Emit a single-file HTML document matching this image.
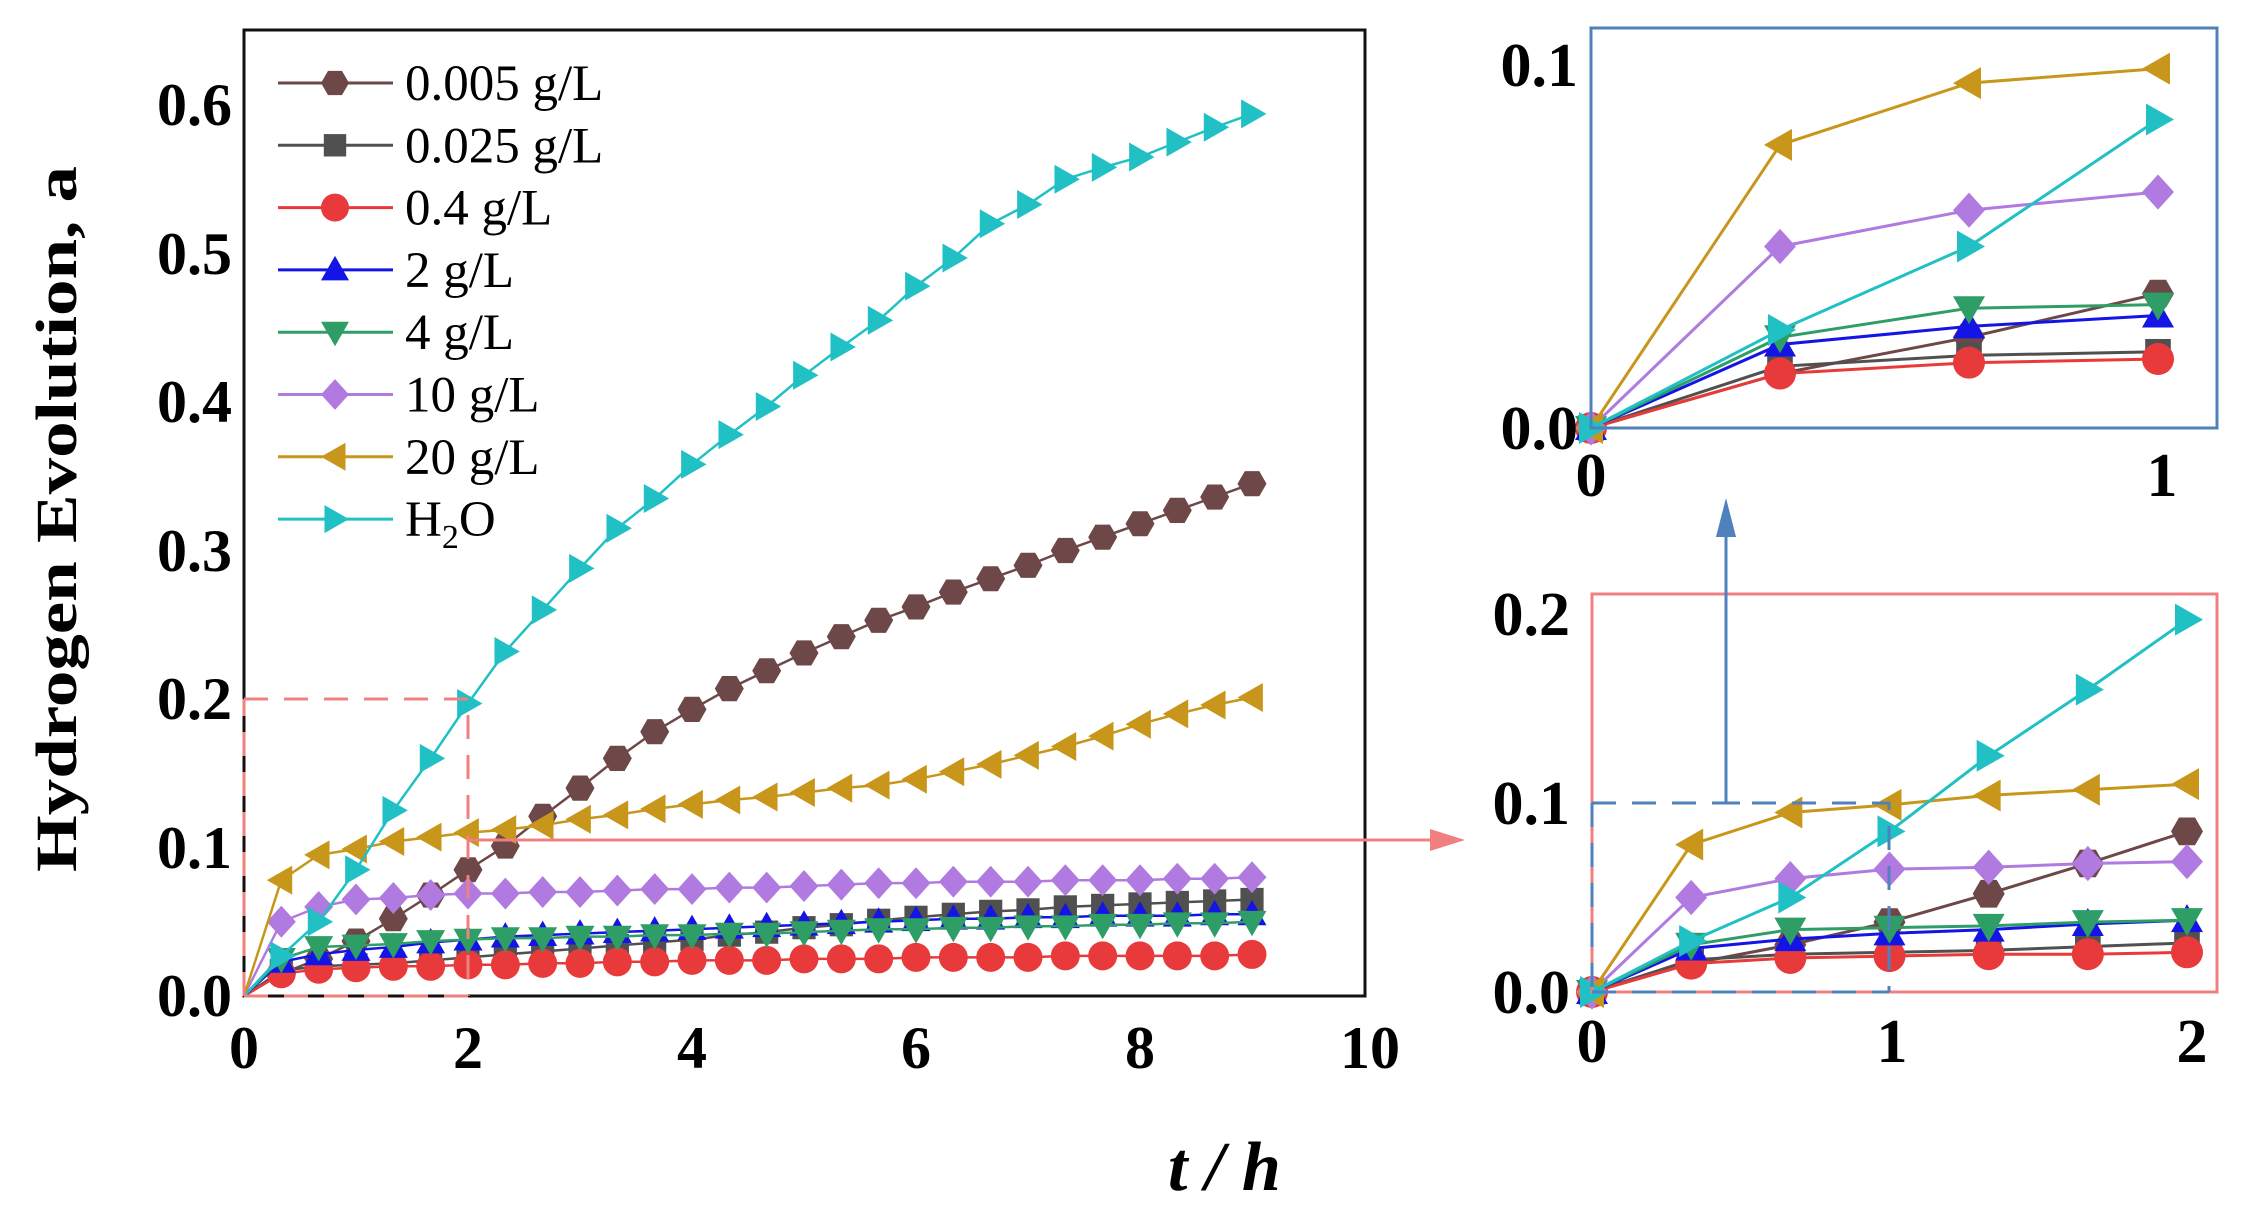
<!DOCTYPE html>
<html><head><meta charset="utf-8"><style>
html,body{margin:0;padding:0;background:#fff;}
svg{display:block;}
text{font-family:"Liberation Serif",serif;}
</style></head><body>
<svg id="s" width="2248" height="1211" viewBox="0 0 2248 1211" xmlns="http://www.w3.org/2000/svg">
<rect width="2248" height="1211" fill="#fff"/>
<g id="g"></g>
<!-- main frame -->
<rect x="244" y="30" width="1121" height="966" fill="none" stroke="#111" stroke-width="3"/>
<g font-size="60" font-weight="bold" text-anchor="end" fill="#000">
<text x="232" y="1016">0.0</text><text x="232" y="868">0.1</text><text x="232" y="719">0.2</text>
<text x="232" y="571">0.3</text><text x="232" y="422">0.4</text><text x="232" y="274">0.5</text><text x="232" y="125">0.6</text>
</g>
<g font-size="60" font-weight="bold" text-anchor="middle" fill="#000">
<text x="244" y="1068">0</text><text x="468" y="1068">2</text><text x="692" y="1068">4</text>
<text x="916" y="1068">6</text><text x="1140" y="1068">8</text><text x="1370" y="1068">10</text>
</g>
<text transform="translate(76,519) rotate(-90)" font-size="58" font-weight="bold" text-anchor="middle" textLength="706" lengthAdjust="spacingAndGlyphs">Hydrogen Evolution, a</text>
<text x="1168" y="1190" font-size="70" font-weight="bold" font-style="italic">t / h</text>
<!-- inset labels -->
<g font-size="62" font-weight="bold" fill="#000">
<text x="1578" y="86" text-anchor="end">0.1</text><text x="1578" y="449" text-anchor="end">0.0</text>
<text x="1591" y="496" text-anchor="middle">0</text><text x="2162" y="496" text-anchor="middle">1</text>
<text x="1570" y="635" text-anchor="end">0.2</text><text x="1570" y="824" text-anchor="end">0.1</text><text x="1570" y="1013" text-anchor="end">0.0</text>
<text x="1592" y="1062" text-anchor="middle">0</text><text x="1892" y="1062" text-anchor="middle">1</text><text x="2192" y="1062" text-anchor="middle">2</text>
</g>
<rect x="1591" y="28" width="626" height="400" fill="none" stroke="#4f81bd" stroke-width="3"/>
<rect x="1592" y="594" width="625" height="398" fill="none" stroke="#f08080" stroke-width="3"/>
<!-- red zoom box in main -->
<g stroke="#f08080" stroke-width="3" fill="none">
<path d="M244 699 H468 V996" stroke-dasharray="24 16"/>
<path d="M244 996 V699" stroke-dasharray="24 16"/>
<path d="M244 996 H468" stroke-dasharray="24 16"/>
<path d="M468 840 H1440"/>
</g>
<polygon points="1465,840 1430,829 1430,851" fill="#f08080"/>
<!-- blue -->
<g stroke="#4f81bd" stroke-width="3" fill="none">
<path d="M1592 803 H1889 V992" stroke-dasharray="24 16"/>
<path d="M1592 992 H1889" stroke-dasharray="24 16"/>
<path d="M1592 803 V992" stroke-dasharray="24 16"/>
<path d="M1726 803 V530"/>
<path d="M1712 803 H1740"/>
</g>
<polygon points="1726,498 1716,537 1736,537" fill="#4f81bd"/>
<g id="leg"></g>
</svg>
<script>
var ser=[
{n:"0.005 g/L",c:"#6e4848",m:"hex",d:[0,0.015,0.025,0.037,0.052,0.068,0.085,0.101,0.121,0.14,0.16,0.178,0.193,0.207,0.219,0.231,0.242,0.253,0.262,0.272,0.281,0.29,0.3,0.309,0.318,0.327,0.336,0.345]},
{n:"0.025 g/L",c:"#505050",m:"sq",d:[0,0.017,0.02,0.021,0.022,0.024,0.026,0.028,0.03,0.032,0.034,0.036,0.038,0.041,0.043,0.046,0.048,0.051,0.053,0.055,0.057,0.058,0.06,0.061,0.062,0.063,0.064,0.065]},
{n:"0.4 g/L",c:"#e83a3a",m:"ci",d:[0,0.015,0.018,0.019,0.02,0.02,0.021,0.021,0.022,0.022,0.023,0.023,0.024,0.024,0.024,0.025,0.025,0.025,0.026,0.026,0.026,0.026,0.027,0.027,0.027,0.027,0.027,0.028]},
{n:"2 g/L",c:"#1414e6",m:"up",d:[0,0.023,0.028,0.031,0.033,0.036,0.038,0.04,0.041,0.042,0.043,0.044,0.045,0.046,0.047,0.048,0.049,0.05,0.051,0.052,0.052,0.053,0.053,0.054,0.054,0.054,0.055,0.055]},
{n:"4 g/L",c:"#2e9e66",m:"dn",d:[0,0.025,0.033,0.034,0.035,0.037,0.038,0.039,0.039,0.04,0.04,0.041,0.041,0.042,0.042,0.043,0.044,0.045,0.045,0.046,0.046,0.047,0.047,0.048,0.048,0.049,0.049,0.05]},
{n:"10 g/L",c:"#b07ae0",m:"di",d:[0,0.05,0.06,0.065,0.066,0.068,0.069,0.069,0.07,0.07,0.071,0.072,0.072,0.073,0.073,0.074,0.075,0.076,0.076,0.077,0.077,0.077,0.078,0.078,0.078,0.079,0.079,0.08]},
{n:"20 g/L",c:"#c8961a",m:"lt",d:[0,0.078,0.095,0.099,0.104,0.107,0.11,0.112,0.115,0.119,0.122,0.126,0.129,0.132,0.134,0.137,0.14,0.142,0.146,0.151,0.156,0.162,0.168,0.175,0.183,0.19,0.196,0.201]},
{n:"H2O",c:"#20c0c4",m:"rt",d:[0,0.027,0.05,0.085,0.125,0.16,0.197,0.232,0.26,0.288,0.315,0.335,0.358,0.378,0.397,0.418,0.437,0.455,0.478,0.497,0.52,0.533,0.55,0.558,0.565,0.575,0.585,0.594]}
];
function mk(t,x,y,r,c){
 var p;
 if(t=="ci")return '<circle cx="'+x+'" cy="'+y+'" r="'+r+'" fill="'+c+'"/>';
 if(t=="sq")return '<rect x="'+(x-r*0.8)+'" y="'+(y-r*0.8)+'" width="'+(r*1.6)+'" height="'+(r*1.6)+'" fill="'+c+'"/>';
 if(t=="hex"){p=[];for(var i=0;i<6;i++){var a=Math.PI/3*i;p.push((x+r*Math.cos(a)).toFixed(1)+','+(y+r*Math.sin(a)).toFixed(1));}}
 if(t=="up")p=[x+','+(y-r),(x+r)+','+(y+r*0.75),(x-r)+','+(y+r*0.75)];
 if(t=="dn")p=[x+','+(y+r),(x+r)+','+(y-r*0.75),(x-r)+','+(y-r*0.75)];
 if(t=="lt")p=[(x-r)+','+y,(x+r*0.75)+','+(y-r),(x+r*0.75)+','+(y+r)];
 if(t=="rt")p=[(x+r)+','+y,(x-r*0.75)+','+(y-r),(x-r*0.75)+','+(y+r)];
 if(t=="di")p=[x+','+(y-r*1.1),(x+r)+','+y,x+','+(y+r*1.1),(x-r)+','+y];
 return '<polygon points="'+p.join(' ')+'" fill="'+c+'"/>';
}
var h='';
function plot(x0,sx,y0,sy,n,r,lw){
 ser.forEach(function(s){
  var pts=[];for(var i=0;i<n;i++)pts.push([x0+sx*i/3,y0-sy*s.d[i]]);
  h+='<polyline points="'+pts.map(function(p){return p[0].toFixed(1)+','+p[1].toFixed(1)}).join(' ')+'" fill="none" stroke="'+s.c+'" stroke-width="'+lw+'"/>';
  pts.forEach(function(p,i){ if(i>0||n<10) h+=mk(s.m,p[0],p[1],r,s.c);});
 });
}
plot(244,112,996,1485,28,14.5,2.5);
plot(1591,567,428,3630,4,16,3);
plot(1592,297.5,992,1890,7,16,3);
document.getElementById('g').innerHTML=h;
var L='';
ser.forEach(function(s,i){
 var y=83+i*62.3;
 L+='<line x1="278" y1="'+y+'" x2="393" y2="'+y+'" stroke="'+s.c+'" stroke-width="3"/>';
 L+=mk(s.m,335,y,14,s.c);
 if(s.n=="H2O") L+='<text x="405" y="'+(y+17)+'" font-size="51">H<tspan font-size="34" dy="12">2</tspan><tspan dy="-12">O</tspan></text>';
 else L+='<text x="405" y="'+(y+17)+'" font-size="51">'+s.n+'</text>';
});
document.getElementById('leg').innerHTML=L;
</script>
</body></html>
